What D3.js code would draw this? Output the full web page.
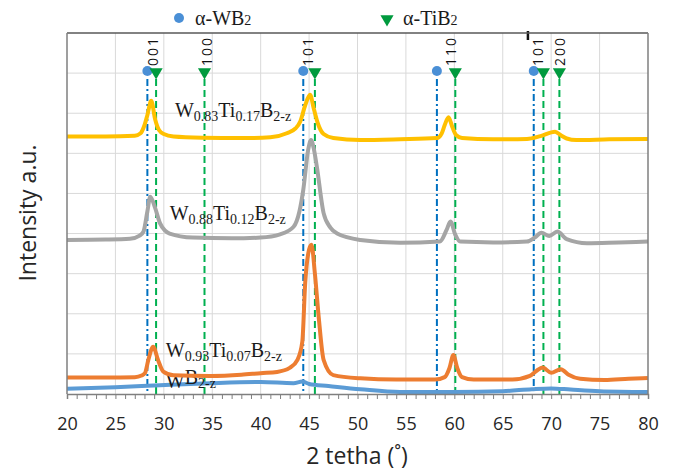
<!DOCTYPE html>
<html>
<head>
<meta charset="utf-8">
<script src="https://cdn.jsdelivr.net/npm/d3@7"></script>
<style>
  body { margin: 0; background: #fff; }
  svg { display: block; }
  .tick text { font-family: "Open Sans", sans-serif; }
</style>
</head>
<body>
<svg id="chart" width="674" height="474"></svg>
<script>
// 2theta (deg), intensity in grid units
var w83Ti17 = [[20,6.42],[24,6.42],[27,6.44],[27.6,6.5],[28.0,6.7],[28.3,6.95],[28.7,7.31],[29.1,6.85],[29.5,6.58],[30.0,6.48],[31,6.42],[34,6.39],[38,6.38],[41,6.4],[42.7,6.5],[43.6,6.62],[44.1,6.8],[44.6,7.2],[45.1,7.46],[45.5,7.1],[45.9,6.75],[46.5,6.48],[47.5,6.38],[50.3,6.33],[54.4,6.35],[58.2,6.38],[58.7,6.5],[59.0,6.7],[59.4,6.9],[59.8,6.65],[60.2,6.45],[60.8,6.38],[64,6.35],[67.5,6.36],[68.9,6.43],[70.4,6.54],[71.0,6.45],[71.6,6.37],[72.6,6.33],[76,6.35],[80,6.36]];
var w88Ti12 = [[20,3.84],[24,3.85],[26.5,3.87],[27.5,3.95],[27.9,4.05],[28.3,4.55],[28.6,4.92],[29.1,4.64],[29.6,4.26],[30.1,4.08],[30.6,4.0],[33,3.9],[37,3.88],[40,3.9],[42,3.98],[43.4,4.17],[44.0,4.55],[44.4,5.09],[44.9,6.08],[45.2,6.33],[45.5,6.1],[45.8,5.67],[46.5,4.51],[47.2,4.15],[47.9,4.0],[50.3,3.84],[54.4,3.77],[58.5,3.8],[59.2,4.09],[59.6,4.3],[60.1,3.97],[60.6,3.8],[64,3.78],[67.5,3.8],[68.3,3.9],[69.0,4.02],[69.8,3.94],[70.65,4.05],[71.6,3.86],[73.7,3.76],[77,3.78],[80,3.8]];
var w93Ti07 = [[20,0.41],[24,0.41],[27,0.42],[27.7,0.46],[28.05,0.52],[28.4,0.85],[28.9,1.18],[29.4,0.85],[29.95,0.56],[31,0.47],[34.8,0.45],[38,0.48],[40,0.52],[41.7,0.55],[43.0,0.65],[43.8,0.85],[44.3,1.3],[44.6,2.77],[45.0,3.6],[45.25,3.72],[45.6,3.0],[46.0,1.9],[46.5,0.85],[47.5,0.47],[50.3,0.39],[54,0.36],[58,0.36],[59.0,0.42],[59.5,0.65],[59.9,0.97],[60.3,0.65],[60.8,0.42],[62,0.36],[66,0.36],[67.8,0.45],[68.5,0.58],[69.1,0.66],[70.0,0.53],[71.0,0.62],[71.8,0.48],[73,0.38],[75.5,0.35],[78,0.38],[80,0.4]];
var wb2 = [[20,0.13],[25,0.17],[29.6,0.22],[34.8,0.27],[40,0.3],[43.4,0.27],[44.3,0.31],[45.0,0.25],[47,0.2],[50.3,0.12],[54.4,0.05],[60,0.05],[65,0.07],[68,0.12],[70,0.14],[72,0.11],[75,0.07],[80,0.05]];

// reference peak positions
var wbPeaks = [28.3, 44.4, 58.2, 68.2];
var tiPeaks = [29.2, 34.2, 45.6, 60.1, 69.2, 70.85];
var hklLabels = ["001", "100", "101", "110", "101", "200"];
var hklPos = [28.87, 34.43, 44.9, 59.65, 68.6, 70.9];

var xTicks = [20, 25, 30, 35, 40, 45, 50, 55, 60, 65, 70, 75, 80];

var svg = d3.select("#chart");

var x = d3.scaleLinear().domain([20, 80]).range([67, 648]);
var y = d3.scaleLinear().domain([0, 9]).range([394, 33]);

// grid
svg.append("g")
    .selectAll("line.vgrid")
    .data(xTicks.slice(1, -1))
    .join("line")
    .attr("x1", function(d) { return x(d); })
    .attr("x2", function(d) { return x(d); })
    .attr("y1", y(0))
    .attr("y2", y(9))
    .style("stroke", "#d9d9d9")
    .style("stroke-width", "1px");

svg.append("g")
    .selectAll("line.hgrid")
    .data(d3.range(1, 9))
    .join("line")
    .attr("x1", x(20))
    .attr("x2", x(80))
    .attr("y1", function(d) { return y(d); })
    .attr("y2", function(d) { return y(d); })
    .style("stroke", "#d9d9d9")
    .style("stroke-width", "1px");

// reference lines
var markY = 71;

svg.append("g")
    .selectAll("line")
    .data(wbPeaks)
    .join("line")
    .attr("x1", function(d) { return x(d); })
    .attr("x2", function(d) { return x(d); })
    .attr("y1", markY + 8)
    .attr("y2", y(0))
    .style("stroke", "#0070c0")
    .style("stroke-width", "2px")
    .style("stroke-dasharray", "7,3,2,3");

svg.append("g")
    .selectAll("line")
    .data(tiPeaks)
    .join("line")
    .attr("x1", function(d) { return x(d); })
    .attr("x2", function(d) { return x(d); })
    .attr("y1", markY + 8)
    .attr("y2", y(0))
    .style("stroke", "#00b050")
    .style("stroke-width", "2px")
    .style("stroke-dasharray", "7,4");

// curves
var line = d3.line()
    .x(function(d) { return x(d[0]); })
    .y(function(d) { return y(d[1]); })
    .curve(d3.curveMonotoneX);

function drawCurve(data, color) {
    svg.append("path")
        .attr("d", line(data))
        .style("fill", "none")
        .style("stroke", color)
        .style("stroke-width", "4px")
        .style("stroke-linejoin", "round");
}

drawCurve(wb2, "#5b9bd5");

// sample labels
var sampleLabels = [
    { main: ["W", "Ti", "B"], sub: ["0.83", "0.17", "2-z"], at: [31.15, 6.9] },
    { main: ["W", "Ti", "B"], sub: ["0.88", "0.12", "2-z"], at: [30.6, 4.34] },
    { main: ["W", "Ti", "B"], sub: ["0.93", "0.07", "2-z"], at: [30.2, 0.92] },
    { main: ["W", "B"], sub: ["", "2-z"], at: [30.2, 0.15] }
];

sampleLabels.forEach(function(l) {
    var t = svg.append("text")
        .attr("x", x(l.at[0]))
        .attr("y", y(l.at[1]))
        .style("font-family", "'Liberation Serif', 'Times New Roman', serif")
        .style("font-size", "20px")
        .style("fill", "#1a1a1a");
    l.main.forEach(function(m, i) {
        t.append("tspan").text(m).attr("dy", i == 0 ? 0 : -4);
        if (l.sub[i] != "") {
            t.append("tspan").text(l.sub[i]).attr("dy", 4).style("font-size", "14px");
        } else {
            t.append("tspan").text("").attr("dy", 4);
        }
    });
});

drawCurve(w93Ti07, "#ed7d31");
drawCurve(w88Ti12, "#a5a5a5");
drawCurve(w83Ti17, "#ffc000");

// markers
svg.append("g")
    .selectAll("circle")
    .data(wbPeaks)
    .join("circle")
    .attr("cx", function(d) { return x(d); })
    .attr("cy", markY)
    .attr("r", 5)
    .style("fill", "#4a8fd6");

var tri = d3.symbol().type(d3.symbolTriangle).size(75);

svg.append("g")
    .selectAll("path")
    .data(tiPeaks)
    .join("path")
    .attr("d", tri)
    .attr("transform", function(d) { return "translate(" + x(d) + "," + (markY + 1) + ") rotate(180)"; })
    .style("fill", "#009a3e");

// hkl labels
svg.append("g")
    .selectAll("text")
    .data(hklLabels)
    .join("text")
    .attr("transform", function(d, i) { return "translate(" + x(hklPos[i]) + ",36) rotate(-90)"; })
    .attr("dy", "0.36em")
    .attr("text-anchor", "end")
    .style("font-family", "'Open Sans', sans-serif")
    .style("font-size", "14px")
    .style("letter-spacing", "2px")
    .style("fill", "#111")
    .text(function(d) { return d; });

// bar mark above second 101
svg.append("line")
    .attr("x1", x(67.6))
    .attr("x2", x(67.6))
    .attr("y1", y(9) - 2)
    .attr("y2", y(9) + 7)
    .style("stroke", "#111")
    .style("stroke-width", "2.5px");

// frame
svg.append("line")
    .attr("x1", x(20)).attr("x2", x(80))
    .attr("y1", y(9)).attr("y2", y(9))
    .style("stroke", "#595959").style("stroke-width", "1.5px");
svg.append("line")
    .attr("x1", x(80)).attr("x2", x(80))
    .attr("y1", y(9)).attr("y2", y(0))
    .style("stroke", "#7f7f7f").style("stroke-width", "1.5px");
svg.append("line")
    .attr("x1", x(20)).attr("x2", x(20))
    .attr("y1", y(9)).attr("y2", y(0))
    .style("stroke", "#7f7f7f").style("stroke-width", "1.5px");

// x axis
var minor = svg.append("g")
    .attr("transform", "translate(0," + y(0) + ")")
    .call(d3.axisBottom(x).tickValues(d3.range(20, 81, 1)).tickSize(5).tickFormat(""));
minor.select(".domain").style("stroke", "#7f7f7f").style("stroke-width", "1.5px");
minor.selectAll(".tick line").style("stroke", "#7f7f7f");

var major = svg.append("g")
    .attr("transform", "translate(0," + y(0) + ")")
    .call(d3.axisBottom(x).tickValues(xTicks).tickSize(0).tickPadding(23));
major.select(".domain").remove();
major.selectAll(".tick text")
    .style("font-size", "18px")
    .style("fill", "#262626");

// axis titles
svg.append("text")
    .attr("transform", "translate(36,213) rotate(-90)")
    .attr("text-anchor", "middle")
    .style("font-family", "'Open Sans', sans-serif")
    .style("font-size", "23px")
    .style("fill", "#262626")
    .text("Intensity a.u.");

svg.append("text")
    .attr("x", 357)
    .attr("y", 464)
    .attr("text-anchor", "middle")
    .style("font-family", "'Open Sans', sans-serif")
    .style("font-size", "23px")
    .style("fill", "#262626")
    .text("2 tetha (˚)");

// legend
svg.append("circle")
    .attr("cx", 179).attr("cy", 18).attr("r", 5)
    .style("fill", "#4a8fd6");
svg.append("path")
    .attr("d", tri)
    .attr("transform", "translate(387,19) rotate(180)")
    .style("fill", "#009a3e");

var legendText = [["α-WB", 195], ["α-TiB", 403]];
legendText.forEach(function(l) {
    var t = svg.append("text")
        .attr("x", l[1])
        .attr("y", 25)
        .style("font-family", "'Liberation Serif', 'Times New Roman', serif")
        .style("font-size", "20px")
        .style("fill", "#1a1a1a");
    t.append("tspan").text(l[0]);
    t.append("tspan").text("2").style("font-size", "14px");
});
</script>
</body>
</html>
